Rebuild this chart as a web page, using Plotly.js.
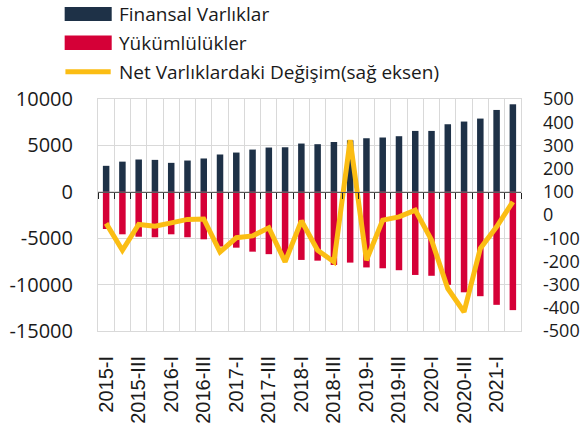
<!DOCTYPE html>
<html>
<head>
<meta charset="utf-8">
<script src="https://cdn.plot.ly/plotly-3.0.1.min.js"></script>
<style>html,body{margin:0;padding:0;background:#fff}#chart{width:588px;height:428px}</style>
</head>
<body>
<div id="chart"></div>
<script>
const categories = ["2015-I","2015-II","2015-III","2015-IV","2016-I","2016-II","2016-III","2016-IV",
  "2017-I","2017-II","2017-III","2017-IV","2018-I","2018-II","2018-III","2018-IV",
  "2019-I","2019-II","2019-III","2019-IV","2020-I","2020-II","2020-III","2020-IV","2021-I","2021-II"];
const tickLabels = ["2015-I","","2015-III","","2016-I","","2016-III","",
  "2017-I","","2017-III","","2018-I","","2018-III","",
  "2019-I","","2019-III","","2020-I","","2020-III","","2021-I",""];
const finansalVarliklar = [2800,3250,3480,3440,3120,3370,3590,4020,4230,4550,4770,4800,5200,
  5130,5370,5550,5770,5850,5990,6560,6560,7280,7570,7890,8820,9430];
const yukumlulukler = [-4010,-4580,-4840,-4900,-4580,-4900,-5120,-5900,-6020,-6450,-6720,-6980,-7340,
  -7420,-7880,-7630,-8150,-8240,-8450,-8960,-9050,-10030,-10830,-11250,-12180,-12750];
const netDegisim = [-36,-152,-41,-48,-34,-19,-17,-159,-98,-90,-55,-202,-25,
  -152,-202,323,-195,-22,-8,21,-108,-317,-418,-144,-51,57];
const leftTicks = [10000,5000,0,-5000,-10000,-15000];
const rightTicks = [500,400,300,200,100,0,-100,-200,-300,-400,-500];

const NAVY = '#1E3147', RED = '#D50037', YELLOW = '#FBBD13', GRID = '#D9D9D9';
const TXT = '#1A1A1A';

const traces = [
  {type:'bar', name:'Finansal Varlıklar', x:categories, y:finansalVarliklar, marker:{color:NAVY}, xaxis:'x', yaxis:'y', showlegend:false},
  {type:'bar', name:'Yükümlülükler', x:categories, y:yukumlulukler, marker:{color:RED}, xaxis:'x', yaxis:'y', showlegend:false},
  {type:'scatter', mode:'lines', name:'Net Varlıklardaki Değişim(sağ eksen)', x:categories, y:netDegisim,
   line:{color:YELLOW, width:5}, xaxis:'x2', yaxis:'y2', showlegend:false}
];

// custom legend (paper coordinates)
const legendItems = [
  {label:'Finansal Varlıklar', color:NAVY, kind:'rect', y0:1.3366, y1:1.397, ty:1.367},
  {label:'Yükümlülükler', color:RED, kind:'rect', y0:1.2115, y1:1.2732, ty:1.2417},
  {label:'Net Varlıklardaki Değişim(sağ eksen)', color:YELLOW, kind:'line', y0:1.1178, y1:1.1178, ty:1.1174}
];
const shapes = legendItems.map(it => it.kind === 'rect'
  ? {type:'rect', xref:'paper', yref:'paper', x0:-0.0788, x1:0.0324, y0:it.y0, y1:it.y1, fillcolor:it.color, line:{width:0}}
  : {type:'line', xref:'paper', yref:'paper', x0:-0.077, x1:0.030, y0:it.y0, y1:it.y1, line:{color:it.color, width:5}});
const annotations = legendItems.map(it => ({xref:'paper', yref:'paper', x:0.0443, y:it.ty, xanchor:'left', yanchor:'middle',
  text:it.label, showarrow:false, font:{family:'Open Sans', size:19, color:TXT}}));

const layout = {
  width:588, height:428,
  margin:{l:98, r:67, t:99, b:97},
  paper_bgcolor:'#fff', plot_bgcolor:'#fff',
  barmode:'relative', bargap:0.6,
  showlegend:false,
  xaxis:{type:'category', categoryorder:'array', categoryarray:categories, range:[-0.5,25.5],
    tickmode:'array', tickvals:categories, ticktext:tickLabels, tickson:'boundaries', ticks:'',
    showgrid:true, gridcolor:GRID, gridwidth:1, showline:true, mirror:true, linecolor:GRID, linewidth:1,
    tickangle:-90, ticklabelstandoff:16,
    tickfont:{family:'Liberation Sans, Arial', size:20, color:TXT}, zeroline:false, fixedrange:true},
  xaxis2:{type:'category', categoryorder:'array', categoryarray:categories, range:[-0.5,25.5],
    overlaying:'x', anchor:'free', position:0.6, side:'bottom',
    tickson:'boundaries', ticks:'outside', ticklen:6, tickwidth:1, tickcolor:'#222',
    showticklabels:false, showgrid:false, showline:true, linecolor:'#595959', linewidth:1.5, zeroline:false},
  yaxis:{range:[-15000,10000], tickmode:'array', tickvals:leftTicks, ticktext:leftTicks.map(String),
    showgrid:true, gridcolor:GRID, gridwidth:1, zeroline:false, showline:true, mirror:true, linecolor:GRID,
    ticks:'', ticklabelstandoff:20, tickfont:{family:'Open Sans', size:20, color:TXT}},
  yaxis2:{range:[-500,500], overlaying:'y', side:'right', anchor:'x',
    tickmode:'array', tickvals:rightTicks, ticktext:rightTicks.map(String),
    showgrid:false, zeroline:false, showline:false, ticks:'', ticklabelstandoff:21,
    tickfont:{family:'Open Sans', size:18, color:TXT}},
  shapes:shapes,
  annotations:annotations
};

Plotly.newPlot('chart', traces, layout, {displayModeBar:false, staticPlot:true});
</script>
</body>
</html>
